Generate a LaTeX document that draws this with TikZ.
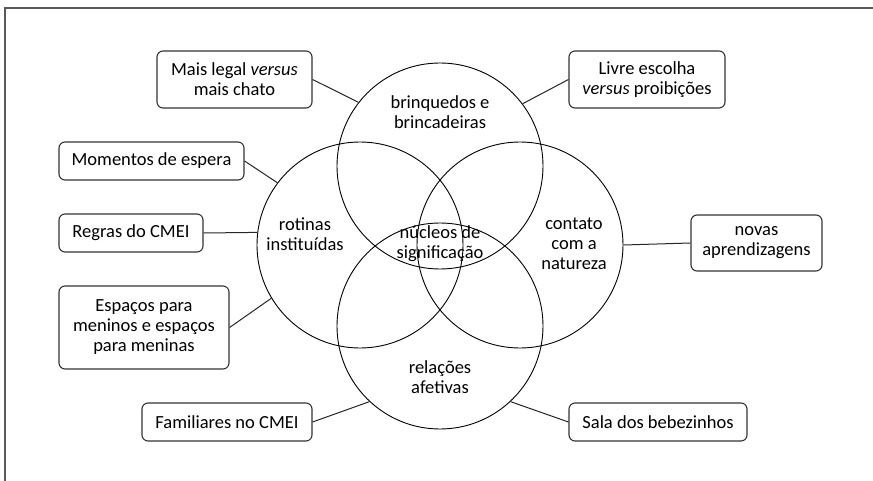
\documentclass[tikz,border=0pt]{standalone}
\usepackage{fontspec}
\setmainfont{Carlito}

\begin{document}
\begin{tikzpicture}[x=1pt,y=-1pt]
                    \tikzstyle{every node}+=[font=\fontsize{18.5}{20}\selectfont, align=center, inner sep=0pt]
                    \tikzstyle{ring}=[draw=black, circle, minimum size=206pt, line width=0.9pt]
                    \tikzstyle{box}=[draw=black!80, rounded corners=6pt, line width=1.1pt]
                    \tikzstyle{link}=[draw=black!85, line width=1pt]
                    \useasboundingbox (0,0) rectangle (873,481);
                    \draw [black!65, line width=1.3pt] (5,481) -- (5,8) -- (873,8);
                    % the four circles
                    \node [ring] (cbrinq) at (440,166) {};
                    \node [ring] (crotinas) at (360,245) {};
                    \node [ring] (ccontato) at (520,245) {};
                    \node [ring] (crelacoes) at (440,326) {};
                    \node (brinq) at (440,112) {brinquedos e\\brincadeiras};
                    \node (rotinas) at (305,234) {rotinas\\instituídas};
                    \node (contato) at (574,244) {contato\\com a\\natureza};
                    \node (relacoes) at (440,377) {relações\\afetivas};
                    \node (nucleos) at (440,244) {núcleos de\\significação};
                    % the boxes
                    \node [box, minimum width=155pt, minimum height=57pt] (mais) at (234.5,79.5) {Mais legal \textit{versus}\\mais chato};
                    \node [box, minimum width=156pt, minimum height=57pt] (livre) at (647,79.5) {Livre escolha\\\textit{versus} proibições};
                    \node [box, minimum width=185pt, minimum height=38pt] (momentos) at (151.5,161) {Momentos de espera};
                    \node [box, minimum width=144pt, minimum height=38pt] (regras) at (131,233) {Regras do CMEI};
                    \node [box, minimum width=170pt, minimum height=83pt] (espacos) at (144,327.5) {Espaços para\\meninos e espaços\\para meninas};
                    \node [box, minimum width=170pt, minimum height=38pt] (familiares) at (227,422) {Familiares no CMEI};
                    \node [box, minimum width=178pt, minimum height=38pt] (sala) at (658,422) {Sala dos bebezinhos};
                    \node [box, minimum width=131pt, minimum height=56pt] (novas) at (756.5,243) {novas\\aprendizagens};
                    % the links
                    \draw [link] (mais.east) -- (cbrinq.142);
                    \draw [link] (livre.west) -- (cbrinq.37);
                    \draw [link] (momentos.east) -- (crotinas.143);
                    \draw [link] (regras.east) -- (crotinas.173);
                    \draw [link] (espacos.east) -- (crotinas.211);
                    \draw [link] (familiares.east) -- (crelacoes.227);
                    \draw [link] (sala.west) -- (crelacoes.313);
                    \draw [link] (novas.west) -- (ccontato.east);
\end{tikzpicture}
\end{document}
